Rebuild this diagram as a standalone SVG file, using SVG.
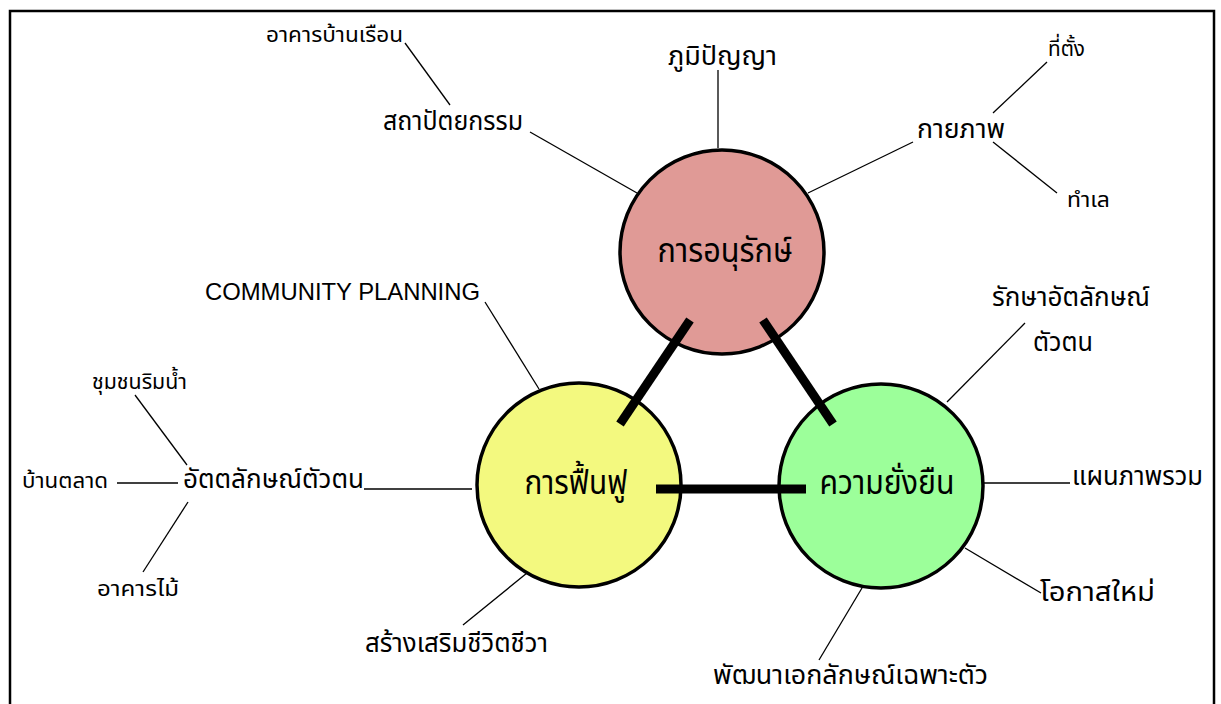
<svg xmlns="http://www.w3.org/2000/svg" width="1221" height="704" viewBox="0 0 1221 704">
<style>
.t{font-family:"Noto Sans Thai","Noto Sans","DejaVu Sans","Liberation Sans",sans-serif;fill:#000}
.s{font-size:22px}
.m{font-size:27px}
.l{font-size:33px}
.en{font-family:"Liberation Sans",Arial,sans-serif;font-size:24px}
.ln{stroke:#000;stroke-width:1.3;fill:none}
.th{stroke:#000;stroke-width:9;fill:none}
.c{stroke:#000;stroke-width:3.5}
</style>
<rect x="10" y="11" width="1204" height="720" fill="#fff" stroke="#000" stroke-width="2.5"/>
<g id="connectors">
<line class="ln" x1="405" y1="43" x2="450" y2="105"/>
<line class="ln" x1="530" y1="132" x2="637" y2="193"/>
<line class="ln" x1="718" y1="70" x2="718" y2="148"/>
<line class="ln" x1="808" y1="193" x2="913" y2="142"/>
<line class="ln" x1="1047" y1="62" x2="993" y2="113"/>
<line class="ln" x1="993" y1="142" x2="1057" y2="193"/>
<line class="ln" x1="485" y1="302" x2="539" y2="389"/>
<line class="ln" x1="135" y1="395" x2="187" y2="465"/>
<line class="ln" x1="117" y1="483" x2="178" y2="483"/>
<line class="ln" x1="364" y1="489" x2="472" y2="489"/>
<line class="ln" x1="188" y1="502" x2="143" y2="572"/>
<line class="ln" x1="527" y1="573" x2="463" y2="625"/>
<line class="ln" x1="862" y1="588" x2="819" y2="660"/>
<line class="ln" x1="965" y1="548" x2="1041" y2="593"/>
<line class="ln" x1="980" y1="483" x2="1070" y2="483"/>
<line class="ln" x1="1025" y1="323" x2="947" y2="402"/>
</g>
<g id="node-conserve"><circle class="c" cx="722" cy="252" r="102" fill="#e09a96"/><text class="t l" x="725" y="262" text-anchor="middle" textLength="135" lengthAdjust="spacingAndGlyphs">การอนุรักษ์</text></g>
<g id="node-revive"><circle class="c" cx="579" cy="485" r="102" fill="#f3f97f"/><text class="t l" x="576" y="494" text-anchor="middle" textLength="103" lengthAdjust="spacingAndGlyphs">การฟื้นฟู</text></g>
<g id="node-sustain"><circle class="c" cx="881" cy="486" r="102" fill="#9cff9a"/><text class="t l" x="887" y="494" text-anchor="middle" textLength="135" lengthAdjust="spacingAndGlyphs">ความยั่งยืน</text></g>
<g id="thick-links">
<line class="th" x1="690" y1="320" x2="620" y2="424"/>
<line class="th" x1="763" y1="320" x2="833" y2="424"/>
<line class="th" x1="656" y1="489" x2="806" y2="489"/>
</g>
<g id="labels">
<text class="t s" x="266" y="42" textLength="137" lengthAdjust="spacingAndGlyphs">อาคารบ้านเรือน</text>
<text class="t m" x="383" y="130" textLength="140" lengthAdjust="spacingAndGlyphs">สถาปัตยกรรม</text>
<text class="t m" x="668" y="65" textLength="109" lengthAdjust="spacingAndGlyphs">ภูมิปัญญา</text>
<text class="t m" x="917" y="138" textLength="88" lengthAdjust="spacingAndGlyphs">กายภาพ</text>
<text class="t s" x="1048" y="56" textLength="37" lengthAdjust="spacingAndGlyphs">ที่ตั้ง</text>
<text class="t s" x="1067" y="207" textLength="43" lengthAdjust="spacingAndGlyphs">ทำเล</text>
<text class="en" x="205" y="300" textLength="275" lengthAdjust="spacingAndGlyphs">COMMUNITY PLANNING</text>
<text class="t s" x="92" y="389" textLength="95" lengthAdjust="spacingAndGlyphs">ชุมชนริมน้ำ</text>
<text class="t s" x="22" y="488" textLength="86" lengthAdjust="spacingAndGlyphs">บ้านตลาด</text>
<text class="t m" x="183" y="488" textLength="181" lengthAdjust="spacingAndGlyphs">อัตตลักษณ์ตัวตน</text>
<text class="t s" x="97" y="596" textLength="82" lengthAdjust="spacingAndGlyphs">อาคารไม้</text>
<text class="t m" x="365" y="652" textLength="183" lengthAdjust="spacingAndGlyphs">สร้างเสริมชีวิตชีวา</text>
<text class="t m" x="713" y="684" textLength="275" lengthAdjust="spacingAndGlyphs">พัฒนาเอกลักษณ์เฉพาะตัว</text>
<text class="t m" x="1040" y="601" textLength="115" lengthAdjust="spacingAndGlyphs">โอกาสใหม่</text>
<text class="t m" x="1072" y="485" textLength="131" lengthAdjust="spacingAndGlyphs">แผนภาพรวม</text>
<text class="t m" x="992" y="306" textLength="158" lengthAdjust="spacingAndGlyphs">รักษาอัตลักษณ์</text>
<text class="t m" x="1033" y="351" textLength="60" lengthAdjust="spacingAndGlyphs">ตัวตน</text>
</g>
</svg>
